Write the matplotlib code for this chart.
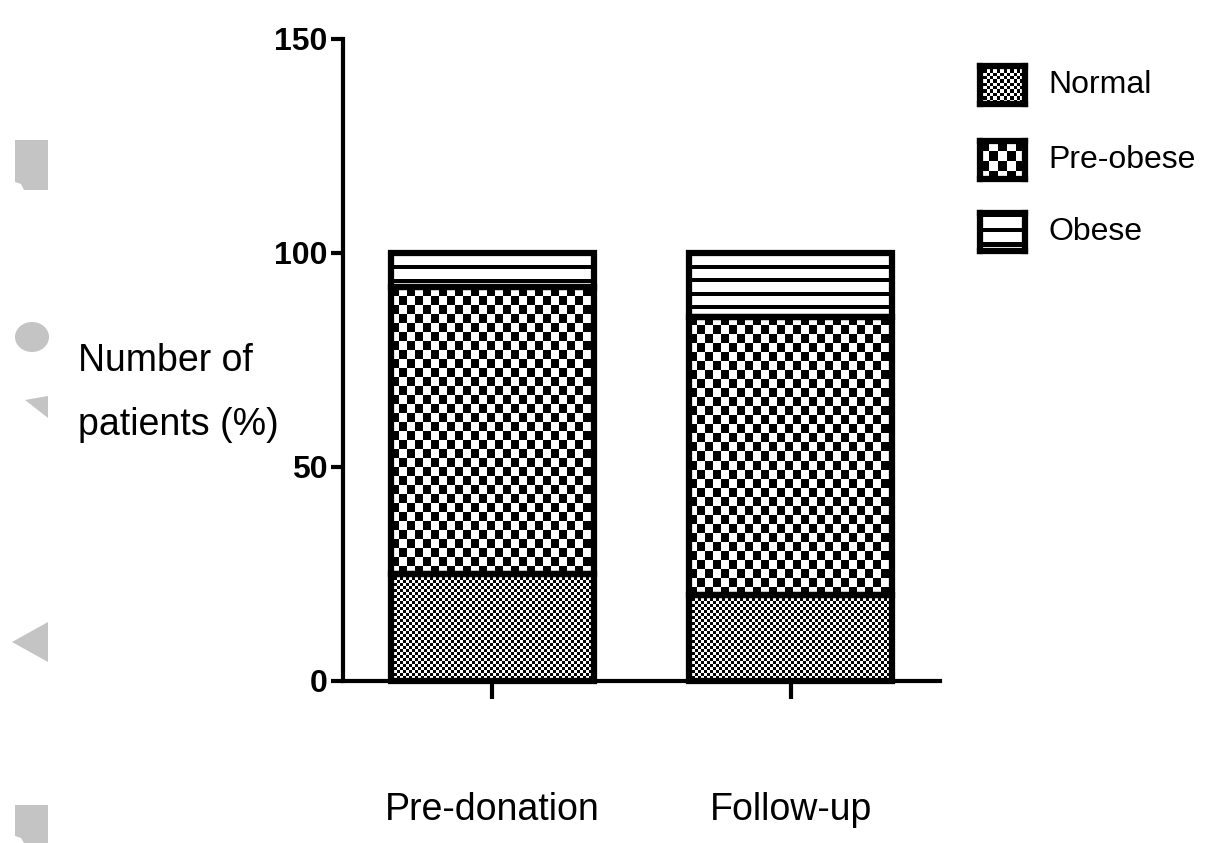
import numpy as np
import matplotlib
matplotlib.use('Agg')
import matplotlib.pyplot as plt
from matplotlib import font_manager as fm
from matplotlib.patches import Polygon, Ellipse
from matplotlib.transforms import Affine2D

# ---------------- data ----------------
categories = ['Pre-donation', 'Follow-up']
series = ['Normal', 'Pre-obese', 'Obese']
normal = [25, 20]
pre_obese = [67, 65]
obese = [8, 15]
yticks = [0, 50, 100, 150]


def has_font(name):
    try:
        fm.findfont(fm.FontProperties(family=name), fallback_to_default=False)
        return True
    except Exception:
        return False


narrow = has_font('Liberation Sans Narrow')
if narrow:
    plt.rcParams['font.family'] = ['Liberation Sans Narrow', 'DejaVu Sans']
    fs_lab, fs_tick, fs_leg = 32, 27, 28
else:
    plt.rcParams['font.family'] = ['Liberation Sans', 'DejaVu Sans']
    fs_lab, fs_tick, fs_leg = 27, 23, 23

W, H = 1208, 843
fig = plt.figure(figsize=(W / 100, H / 100), dpi=100)
ax = fig.add_axes([343 / W, 1 - 681 / H, (940 - 343) / W, (681 - 39) / H])
ax.set_xlim(-0.5, 1.5)
ax.set_ylim(0, 150)


def pattern(kind, w, h):
    iy, ix = np.mgrid[0:h, 0:w]
    if kind == 'normal':
        a = (ix // 3 + iy // 3) % 2
    elif kind == 'preobese':
        a = (ix // 8 + iy // 9) % 2
    else:
        a = (iy % 13) >= 4
    return a.astype(float)


kinds = ['normal', 'preobese', 'obese']
x = np.arange(len(categories))
width = 0.68
bottom = np.zeros(len(categories))
for vals, kind in zip([normal, pre_obese, obese], kinds):
    vals = np.array(vals, dtype=float)
    bars = ax.bar(x, vals, width, bottom=bottom, facecolor='white',
                  edgecolor='none', zorder=2)
    for b in bars:
        bb = b.get_window_extent()
        w = max(int(round(bb.width)), 1)
        h = max(int(round(bb.height)), 1)
        arr = pattern(kind, w, h)
        x0, y0 = b.get_x(), b.get_y()
        x1, y1 = x0 + b.get_width(), y0 + b.get_height()
        im = ax.imshow(arr, cmap='gray', vmin=0, vmax=1,
                       extent=[x0, x1, y0, y1], aspect='auto',
                       interpolation='nearest', zorder=2.2)
        im.set_clip_path(b)
    ax.bar(x, vals, width, bottom=bottom, facecolor='none',
           edgecolor='black', linewidth=4.5, zorder=3, clip_on=False)
    bottom += vals

ax.set_xlim(-0.5, 1.5)
ax.set_ylim(0, 150)

ax.set_yticks(yticks)
ax.set_yticklabels([str(t) for t in yticks], fontweight='bold', fontsize=fs_tick)
ax.set_xticks(x)
ax.set_xticklabels(categories, fontsize=fs_lab)
ax.tick_params(axis='y', direction='out', length=9, width=3, pad=2)
ax.tick_params(axis='x', direction='out', length=13, width=3, pad=67)
for s in ['top', 'right']:
    ax.spines[s].set_visible(False)
for s in ['left', 'bottom']:
    ax.spines[s].set_linewidth(3)

# y label (horizontal, two lines)
fig.text(78 / W, 1 - 393 / H, 'Number of\npatients (%)', fontsize=fs_lab,
         ha='left', va='center', linespacing=2.0)

# legend
leg_y = [85, 160, 232]
for lab, kind, yc in zip(series, kinds, leg_y):
    sax = fig.add_axes([980 / W, 1 - (yc + 19) / H, 45 / W, 38 / H])
    sax.imshow(pattern(kind, 40, 34), cmap='gray', vmin=0, vmax=1,
               aspect='auto', interpolation='nearest')
    sax.set_xticks([])
    sax.set_yticks([])
    for sp in sax.spines.values():
        sp.set_linewidth(4.5)
    fig.text(1048 / W, 1 - yc / H, lab, fontsize=fs_leg, va='center', ha='left')

# grey decorative shapes on the left edge
pix = Affine2D().scale(1 / W, -1 / H).translate(0, 1) + fig.transFigure
grey = '#c4c4c4'
shapes = [
    Polygon([(15, 140), (48, 140), (48, 190), (24, 190), (21, 184), (15, 182)],
            closed=True, transform=pix),
    Ellipse((32, 337), 34, 30, transform=pix),
    Polygon([(25, 400), (48, 396), (48, 418)], closed=True, transform=pix),
    Polygon([(12, 642), (48, 622), (48, 662)], closed=True, transform=pix),
    Polygon([(15, 805), (48, 805), (48, 843), (24, 843), (21, 838), (15, 836)],
            closed=True, transform=pix),
]
for sh in shapes:
    sh.set_facecolor(grey)
    sh.set_edgecolor('none')
    fig.add_artist(sh)

fig.savefig('out.png', dpi=100)
